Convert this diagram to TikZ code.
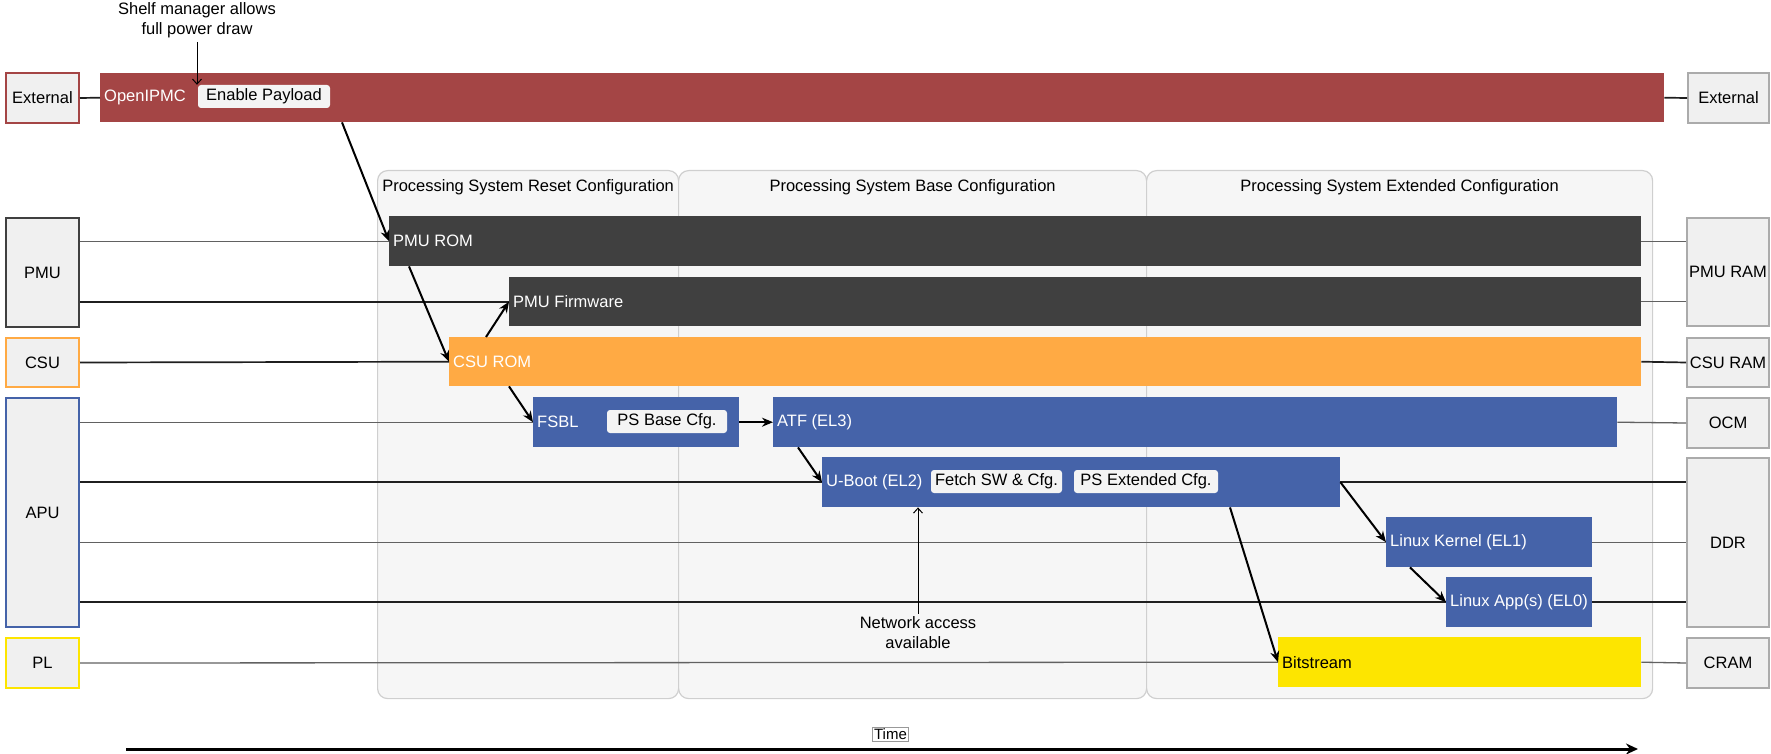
\documentclass[tikz,border=0pt]{standalone}
\usepackage{fontspec}
\setmainfont{Liberation Sans}
\usetikzlibrary{arrows.meta}
\definecolor{cred}{HTML}{A44545}
\definecolor{cdark}{HTML}{404040}
\definecolor{corange}{HTML}{FFAA44}
\definecolor{cblue}{HTML}{4563A9}
\definecolor{cyellow}{HTML}{FDE500}
\definecolor{contfill}{HTML}{F6F6F6}
\definecolor{contline}{HTML}{CFCFCF}
\definecolor{boxfill}{HTML}{F0F0F0}
\definecolor{rboxline}{HTML}{ABABAB}
\definecolor{tagfill}{HTML}{F4F4F4}
\newcommand\blk[7]{\node[#6, anchor=north west, minimum width={#4-#2}, minimum height={#5-#3}] (#1) at (#2,#3) {#7};}
\begin{document}
\begin{tikzpicture}[x=1pt,y=-1pt,
  font=\fontsize{16.5}{20}\selectfont,
  cont/.style={draw=contline, fill=contfill, line width=1.2pt, rounded corners=10pt, inner sep=0pt},
  bar/.style={fill=#1, inner sep=0pt},
  btxt/.style={anchor=west, text=white, inner sep=0pt, xshift=4pt},
  lbox/.style={draw=#1, fill=boxfill, line width=2pt, inner sep=0pt},
  rbox/.style={draw=rboxline, fill=boxfill, line width=2pt, inner sep=0pt},
  tag/.style={fill=tagfill, rounded corners=3pt, inner sep=0pt, text=black, minimum height=23pt},
  gline/.style={draw=black!62, line width=1.3pt},
  kline/.style={draw=black!88, line width=1.7pt},
  arr/.style={-{Stealth[length=11pt,width=9pt]}, line width=2pt, black},
  tarr/.style={-{Straight Barb[length=5pt,width=9pt]}, line width=1pt, black},
]
\useasboundingbox (0,0) rectangle (1771,754);

% containers
\blk{c1}{377}{170}{678}{698}{cont}{}
\blk{c2}{678}{170}{1146}{698}{cont}{}
\blk{c3}{1146}{170}{1652}{698}{cont}{}
\node (c1t) at ([yshift=-17pt]c1.north) {Processing System Reset Configuration};
\node (c2t) at ([yshift=-17pt]c2.north) {Processing System Base Configuration};
\node (c3t) at ([yshift=-17pt]c3.north) {Processing System Extended Configuration};

% left boxes
\blk{extL}{5}{72}{78}{122}{lbox=cred}{External}
\blk{pmu}{5}{217}{78}{326}{lbox=cdark}{PMU}
\blk{csu}{5}{337}{78}{386}{lbox=corange}{CSU}
\blk{apu}{5}{397}{78}{626}{lbox=cblue}{APU}
\blk{pl}{5}{637}{78}{687}{lbox=cyellow}{PL}

% right boxes
\blk{extR}{1687}{72}{1768}{122}{rbox}{External}
\blk{pmuram}{1686}{217}{1768}{325}{rbox}{PMU RAM}
\blk{csuram}{1686}{337}{1768}{386}{rbox}{CSU RAM}
\blk{ocm}{1686}{397}{1768}{447}{rbox}{OCM}
\blk{ddr}{1686}{457}{1768}{626}{rbox}{DDR}
\blk{cram}{1686}{637}{1768}{687}{rbox}{CRAM}

% bars
\blk{ipmc}{100}{73}{1664}{122}{bar=cred, label={[btxt]west:OpenIPMC}}{}
\blk{pmurom}{389}{216}{1641}{266}{bar=cdark, label={[btxt]west:PMU ROM}}{}
\blk{pmufw}{509}{277}{1641}{326}{bar=cdark, label={[btxt]west:PMU Firmware}}{}
\blk{csurom}{449}{337}{1641}{386}{bar=corange, label={[btxt]west:CSU ROM}}{}
\blk{fsbl}{533}{397}{739}{447}{bar=cblue, label={[btxt]west:FSBL}}{}
\blk{atf}{773}{397}{1617}{447}{bar=cblue, label={[btxt]west:ATF (EL3)}}{}
\blk{uboot}{822}{457}{1340}{507}{bar=cblue, label={[btxt]west:U-Boot (EL2)}}{}
\blk{kernel}{1386}{517}{1592}{567}{bar=cblue, label={[btxt]west:Linux Kernel (EL1)}}{}
\blk{app}{1446}{577}{1592}{627}{bar=cblue, label={[btxt]west:Linux App(s) (EL0)}}{}
\blk{bit}{1278}{637}{1641}{687}{bar=cyellow, label={[btxt, text=black]west:Bitstream}}{}

% tags
\node[tag, minimum width=132pt] (enable) at (264,96.5) {Enable Payload};
\node[tag, minimum width=120pt] (psbase) at (667,421.5) {PS Base Cfg.};
\node[tag, minimum width=131pt] (fetch) at (996.5,481.5) {Fetch SW \& Cfg.};
\node[tag, minimum width=144pt] (psext) at (1146,481.5) {PS Extended Cfg.};

% connection lines left
\draw[kline] (extL.east) -- (ipmc.west);
\draw[kline] (ipmc.east) -- (extR.west);
\draw[gline] (pmu.east |- pmurom.west) -- (pmurom.west);
\draw[kline] (pmu.east |- pmufw.west) -- (pmufw.west);
\draw[kline] (csu.east) -- (csurom.west);
\draw[gline] (apu.east |- fsbl.west) -- (fsbl.west);
\draw[kline] (apu.east |- uboot.west) -- (uboot.west);
\draw[gline] (apu.east |- kernel.west) -- (kernel.west);
\draw[kline] (apu.east |- app.west) -- (app.west);
\draw[gline] (pl.east) -- (bit.west);
% connection lines right
\draw[gline] (pmurom.east) -- (pmuram.west |- pmurom.east);
\draw[gline] (pmufw.east) -- (pmuram.west |- pmufw.east);
\draw[kline] (csurom.east) -- (csuram.west);
\draw[gline] (atf.east) -- (ocm.west);
\draw[kline] (uboot.east) -- (ddr.west |- uboot.east);
\draw[gline] (kernel.east) -- (ddr.west |- kernel.east);
\draw[kline] (app.east) -- (ddr.west |- app.east);
\draw[gline] (bit.east) -- (cram.west);

% sequence arrows
\draw[arr] ([xshift=242pt]ipmc.south west) -- (pmurom.west);
\draw[arr] ([xshift=20pt]pmurom.south west) -- (csurom.west);
\draw[arr] ([xshift=37pt]csurom.north west) -- (pmufw.west);
\draw[arr] ([xshift=60pt]csurom.south west) -- (fsbl.west);
\draw[arr] (fsbl.east) -- (atf.west);
\draw[arr] ([xshift=25pt]atf.south west) -- (uboot.west);
\draw[arr] (uboot.east) -- (kernel.west);
\draw[arr] ([xshift=24pt]kernel.south west) -- (app.west);
\draw[arr] ([xshift=408pt]uboot.south west) -- (bit.west);

% annotations
\node[align=center, inner sep=0pt] (shelf) at (197,20) {Shelf manager allows\\full power draw};
\draw[tarr] ([yshift=-4pt]shelf.south) -- (shelf.south |- enable.north);
\node[align=center, inner sep=0pt] (net) at (918,633) {Network access\\available};
\draw[tarr] ([yshift=3pt]net.north) -- (net.north |- uboot.south);

% time axis
\coordinate (t0) at (126,749);
\coordinate (t1) at (1638,749);
\draw[line width=3pt, -{Stealth[length=12pt,width=11pt]}] (t0) -- (t1);
\node[draw=black!40, line width=0.6pt, inner sep=1.5pt, font=\fontsize{15}{18}\selectfont] (time) at (890.5,734) {Time};
\end{tikzpicture}
\end{document}
